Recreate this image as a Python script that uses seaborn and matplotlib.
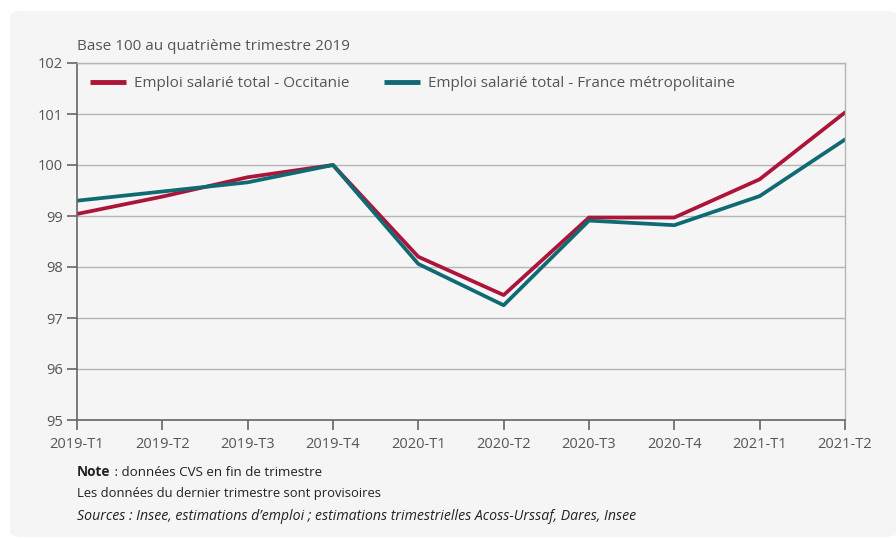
import pandas as pd
import matplotlib.pyplot as plt
import seaborn as sns
from matplotlib.patches import FancyBboxPatch

trimestres = ['2019-T1', '2019-T2', '2019-T3', '2019-T4', '2020-T1',
              '2020-T2', '2020-T3', '2020-T4', '2021-T1', '2021-T2']
occitanie = [99.04, 99.38, 99.76, 100.0, 98.20, 97.45, 98.97, 98.97, 99.72, 101.03]
france = [99.30, 99.48, 99.66, 100.0, 98.06, 97.25, 98.91, 98.82, 99.39, 100.50]
series_names = ['Emploi salarié total - Occitanie',
                'Emploi salarié total - France métropolitaine']
colors = ['#ad1439', '#106a74']
y_ticks = [95, 96, 97, 98, 99, 100, 101, 102]

df = pd.DataFrame({
    'trimestre': trimestres * 2,
    'indice': occitanie + france,
    'serie': [series_names[0]] * len(trimestres) + [series_names[1]] * len(trimestres),
})
df['pos'] = df['trimestre'].map({t: i for i, t in enumerate(trimestres)})

sns.set_style('white')
plt.rcParams['font.family'] = ['Open Sans', 'DejaVu Sans']

bg = '#f5f5f5'
txt = '#555555'
fig = plt.figure(figsize=(8.96, 5.38), dpi=100)
fig.patch.set_facecolor('white')
panel = FancyBboxPatch((10 / 896, 0.002), 0.99, 0.978,
                       boxstyle='round,pad=0,rounding_size=0.012',
                       transform=fig.transFigure, facecolor=bg,
                       edgecolor='none', zorder=-10)
fig.patches.append(panel)

ax = fig.add_axes([77 / 896, 118 / 538, 768 / 896, 357 / 538])
ax.set_facecolor(bg)

sns.lineplot(data=df, x='pos', y='indice', hue='serie', palette=colors,
             hue_order=series_names, linewidth=2.7, ax=ax)

ax.set_xlim(0, len(trimestres) - 1)
ax.set_ylim(95, 102)
ax.set_xticks(range(len(trimestres)))
ax.set_xticklabels(trimestres)
ax.set_yticks(y_ticks)
ax.set_xlabel('')
ax.set_ylabel('')
ax.grid(axis='y', color='#b4b4b4', linewidth=1)
ax.set_axisbelow(True)

for side in ['top', 'right']:
    ax.spines[side].set_color('#b4b4b4')
    ax.spines[side].set_linewidth(1)
for side in ['left', 'bottom']:
    ax.spines[side].set_color('#666666')
    ax.spines[side].set_linewidth(1.2)

ax.tick_params(axis='both', which='both', direction='out', length=7,
               width=1.2, color='#666666', labelcolor=txt, labelsize=10.5)
ax.tick_params(axis='x', pad=5, bottom=True)
ax.tick_params(axis='y', pad=3, left=True)

leg = ax.legend(loc='upper left', bbox_to_anchor=(0.0, 1.0), ncol=2,
                frameon=False, fontsize=11, handlelength=2.35,
                handletextpad=0.5, columnspacing=2.3, borderaxespad=0.35,
                borderpad=0.5)
for t in leg.get_texts():
    t.set_color(txt)
for h in leg.get_lines():
    h.set_linewidth(3.5)
    h.set_solid_capstyle('butt')

fig.text(77 / 896, 1 - 47 / 538, 'Base 100 au quatrième trimestre 2019',
         fontsize=11, color=txt, va='center', ha='left')

note = fig.text(77 / 896, 1 - 472 / 538, 'Note', fontsize=9.8,
                color='#222222', va='center', ha='left', fontweight='bold')
fig.canvas.draw()
bb = note.get_window_extent()
fig.text(bb.x1 / 896, 1 - 472 / 538, ' : données CVS en fin de trimestre',
         fontsize=9.6, color='#222222', va='center', ha='left')
fig.text(77 / 896, 1 - 494 / 538, 'Les données du dernier trimestre sont provisoires',
         fontsize=9.4, color='#222222', va='center', ha='left')
fig.text(77 / 896, 1 - 516 / 538,
         'Sources : Insee, estimations d’emploi ; estimations trimestrielles Acoss-Urssaf, Dares, Insee',
         fontsize=10.2, color='#222222', va='center', ha='left', style='italic')

fig.savefig('out.png', dpi=100, facecolor='white')
